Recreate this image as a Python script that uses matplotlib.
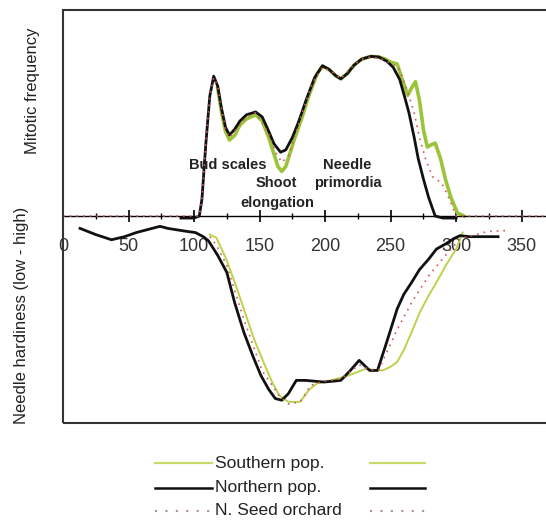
# -----------------------------
# Imports
# -----------------------------
import matplotlib
matplotlib.use("Agg")
import matplotlib.pyplot as plt
from matplotlib.lines import Line2D
from matplotlib.patches import Rectangle

plt.rcParams['font.family'] = ['Liberation Sans', 'DejaVu Sans']

# -----------------------------
# Data
# -----------------------------
# Mitotic frequency (upper half, relative units)
mit_north_day = [90, 100, 104, 106, 109, 112, 115, 118, 121, 124, 127, 131, 135, 140, 147,
                 152, 157, 161, 166, 170, 175, 180, 186, 192, 198, 203, 208, 212, 217, 222,
                 228, 235, 241, 247, 252, 257, 261, 264, 268, 271, 275, 279, 284, 290, 300]
mit_north_val = [-0.01, -0.01, 0.0, 0.08, 0.35, 0.58, 0.677, 0.63, 0.52, 0.43, 0.392, 0.42,
                 0.46, 0.49, 0.504, 0.48, 0.41, 0.35, 0.309, 0.32, 0.38, 0.46, 0.57, 0.67,
                 0.728, 0.71, 0.68, 0.664, 0.69, 0.73, 0.76, 0.773, 0.77, 0.75, 0.72, 0.66,
                 0.57, 0.50, 0.38, 0.28, 0.18, 0.09, 0.0, -0.01, -0.01]

mit_south_day = [118, 121, 124, 127, 131, 135, 140, 147, 152, 157, 161, 164, 167, 170, 173,
                 177, 182, 188, 194, 198, 203, 208, 212, 217, 222, 228, 235, 241, 246, 250,
                 255, 259, 263, 266, 269, 272, 275, 278, 281, 284, 288, 292, 296, 301, 306]
mit_south_val = [0.62, 0.50, 0.41, 0.368, 0.39, 0.44, 0.47, 0.49, 0.46, 0.38, 0.30, 0.24,
                 0.216, 0.24, 0.30, 0.38, 0.47, 0.59, 0.69, 0.725, 0.71, 0.68, 0.664, 0.69,
                 0.73, 0.76, 0.773, 0.77, 0.76, 0.745, 0.736, 0.66, 0.584, 0.62, 0.650,
                 0.56, 0.42, 0.334, 0.345, 0.353, 0.28, 0.174, 0.09, 0.015, 0.0]

mit_orch_day = [0, 104, 106, 109, 112, 115, 118, 121, 124, 127, 131, 140, 147, 157, 162, 167,
                172, 180, 190, 198, 205, 212, 220, 228, 235, 243, 250, 256, 262, 268, 272,
                277, 282, 289, 295, 300, 390]
mit_orch_val = [0.0, 0.0, 0.08, 0.35, 0.58, 0.67, 0.63, 0.52, 0.42, 0.38, 0.41, 0.48, 0.50,
                0.40, 0.31, 0.26, 0.29, 0.45, 0.64, 0.72, 0.70, 0.664, 0.72, 0.76, 0.77,
                0.76, 0.74, 0.72, 0.62, 0.50, 0.38, 0.27, 0.19, 0.16, 0.08, 0.0, 0.0]

# Needle hardiness (lower half, drawn negative)
hard_north_day = [13, 25, 37, 47, 56, 65, 74, 80, 87, 95, 101, 107, 111, 118, 125, 131, 138,
                  145, 151, 157, 162, 167, 172, 178, 185, 192, 199, 206, 212, 219, 226, 234,
                  240, 247, 255, 260, 266, 272, 279, 285, 292, 298, 303, 310, 320, 332]
hard_north_val = [-0.06, -0.09, -0.115, -0.10, -0.08, -0.065, -0.05, -0.06, -0.067, -0.075,
                  -0.08, -0.10, -0.12, -0.19, -0.273, -0.42, -0.563, -0.68, -0.772, -0.84,
                  -0.884, -0.892, -0.86, -0.796, -0.796, -0.80, -0.804, -0.80, -0.796, -0.75,
                  -0.699, -0.748, -0.748, -0.611, -0.45, -0.38, -0.322, -0.26, -0.209, -0.16,
                  -0.135, -0.11, -0.095, -0.10, -0.10, -0.10]

hard_south_day = [112, 117, 124, 131, 138, 146, 154, 160, 165, 172, 181, 188, 194, 199, 208,
                  218, 225, 231, 238, 244, 250, 255, 260, 266, 272, 279, 286, 292, 296, 300,
                  305]
hard_south_val = [-0.09, -0.105, -0.20, -0.32, -0.45, -0.60, -0.723, -0.81, -0.868, -0.90,
                  -0.90, -0.84, -0.81, -0.804, -0.79, -0.772, -0.755, -0.74, -0.745, -0.748,
                  -0.73, -0.707, -0.65, -0.563, -0.47, -0.386, -0.31, -0.241, -0.20, -0.161,
                  -0.08]

hard_orch_day = [112, 117, 125, 138, 152, 165, 172, 181, 189, 199, 212, 226, 234, 241, 247,
                 255, 266, 279, 292, 303, 324, 340]
hard_orch_val = [-0.10, -0.14, -0.24, -0.50, -0.75, -0.87, -0.91, -0.90, -0.82, -0.80, -0.79,
                 -0.72, -0.745, -0.745, -0.66, -0.55, -0.42, -0.29, -0.19, -0.11, -0.075, -0.07]

tick_days = [0, 50, 100, 150, 200, 250, 300, 350]
tick_labels = ['0', '50', '100', '150', '200', '250', '300', '350']
minor_days = [25, 75, 125, 175, 225, 275, 325, 375]

phase_labels = ['Bud scales', 'Shoot', 'elongation', 'Needle', 'primordia']
phase_x = [126, 162.5, 163.5, 217, 217.5]
phase_y = [0.245, 0.162, 0.065, 0.245, 0.162]

series_names = ['Southern pop.', 'Northern pop.', 'N. Seed orchard']

# -----------------------------
# Styles
# -----------------------------
GREEN = '#9cc43a'
GREEN_LIGHT = '#bcd24a'
BLACK = '#111111'
RED = '#cc5a5a'
DOTS = (0, (1, 3))

# -----------------------------
# Figure
# -----------------------------
fig = plt.figure(figsize=(5.46, 5.22), dpi=100)
ax = fig.add_axes([0.1154, 0.1906, 0.96, 0.7912])

ax.plot(mit_south_day, mit_south_val, color=GREEN, lw=2.6, zorder=2)
ax.plot(mit_north_day, mit_north_val, color=BLACK, lw=2.0, zorder=3)
ax.plot(mit_orch_day, mit_orch_val, color=RED, lw=1.2, ls=DOTS, zorder=4)

ax.plot(hard_south_day, hard_south_val, color=GREEN_LIGHT, lw=1.4, zorder=2)
ax.plot(hard_north_day, hard_north_val, color=BLACK, lw=2.0, zorder=3)
ax.plot(hard_orch_day, hard_orch_val, color=RED, lw=1.2, ls=DOTS, zorder=4)

ax.set_xlim(0, 400)
ax.set_ylim(-1, 1)

# zero line carries the day axis, outer box drawn separately
for side in ['top', 'left', 'right']:
    ax.spines[side].set_visible(False)
ax.spines['bottom'].set_position(('data', 0))
ax.spines['bottom'].set_linewidth(1.0)
ax.add_patch(Rectangle((0, 0), 1, 1, transform=ax.transAxes, fill=False,
                       lw=1.5, edgecolor='#333333', clip_on=False, zorder=5))

ax.set_xticks(tick_days)
ax.set_xticklabels(tick_labels)
ax.set_xticks(minor_days, minor=True)
ax.tick_params(axis='x', which='major', direction='inout', length=8, width=1.2,
               pad=12, labelsize=13, labelcolor='#333333')
ax.tick_params(axis='x', which='minor', direction='inout', length=4, width=1.0)
ax.set_yticks([])

for lab, x, y in zip(phase_labels, phase_x, phase_y):
    ax.text(x, y, lab, ha='center', va='center', fontsize=10.5, fontweight='bold',
            color='#222222', zorder=6)

fig.text(0.06, 0.826, 'Mitotic frequency', rotation=90, ha='center', va='center',
         fontsize=12, color='#222222')
fig.text(0.0385, 0.395, 'Needle hardiness (low - high)', rotation=90, ha='center',
         va='center', fontsize=12, color='#222222')

# -----------------------------
# Legend (sample line on both sides of the label)
# -----------------------------
leg_styles = [dict(color='#c5dc6a', lw=1.6, ls='-'),
              dict(color=BLACK, lw=1.8, ls='-'),
              dict(color='#b09090', lw=1.5, ls=(0, (1, 4)))]
leg_y = [0.113, 0.066, 0.022]
for name, st, y in zip(series_names, leg_styles, leg_y):
    fig.add_artist(Line2D([0.284, 0.388], [y, y], transform=fig.transFigure, **st))
    fig.add_artist(Line2D([0.678, 0.778], [y, y], transform=fig.transFigure, **st))
    fig.text(0.394, y, name, ha='left', va='center', fontsize=12.5, color='#222222')

fig.savefig('out.png', dpi=100)
